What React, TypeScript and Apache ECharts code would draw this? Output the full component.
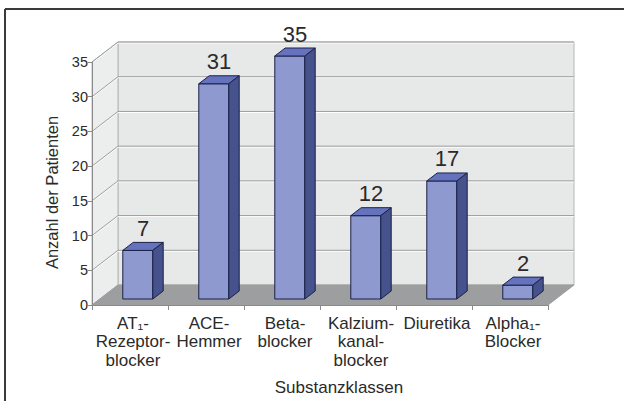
import React, { useEffect, useRef } from "react";
import * as echarts from "echarts";

const categories = [
  "AT₁-\nRezeptor-\nblocker",
  "ACE-\nHemmer",
  "Beta-\nblocker",
  "Kalzium-\nkanal-\nblocker",
  "Diuretika",
  "Alpha₁-\nBlocker",
];
const patientCounts = [7, 31, 35, 12, 17, 2];
const yTicks = [0, 5, 10, 15, 20, 25, 30, 35];
const yAxisTitle = "Anzahl der Patienten";
const xAxisTitle = "Substanzklassen";

// 3D projection (layout/style constants)
const DX = 26;
const DY = 20;
const BAR_D0 = 0.3;
const BAR_D1 = 0.7;
const BAR_W = 0.395;
const FONT = "Liberation Sans, Arial, sans-serif";

export default function App() {
  const ref = useRef<HTMLDivElement>(null);
  useEffect(() => {
    const chart = echarts.init(ref.current!, null, { renderer: "svg" });
    const yMin = yTicks[0];
    const yMax = yTicks[yTicks.length - 1];
    const interval = yTicks[1] - yTicks[0];

    const wallsRender = (params: any, api: any) => {
      const bw = api.size([1, 0])[0];
      const p0 = api.coord([0, yMin]);
      const L = p0[0] - bw / 2;
      const R = api.coord([categories.length - 1, yMin])[0] + bw / 2;
      const y0 = p0[1];
      const yTop = api.coord([0, yMax])[1];
      const children: any[] = [];
      children.push({
        type: "polygon",
        shape: { points: [[L + DX, y0 - DY], [R + DX, y0 - DY], [R + DX, yTop - DY], [L + DX, yTop - DY]] },
        style: { fill: "#e7e8e8", stroke: "#b5b6b6", lineWidth: 1 },
      });
      children.push({
        type: "polygon",
        shape: { points: [[L, y0], [L + DX, y0 - DY], [L + DX, yTop - DY], [L, yTop]] },
        style: { fill: "#eceded", stroke: "#b5b6b6", lineWidth: 1 },
      });
      children.push({
        type: "polygon",
        shape: { points: [[L, y0], [R, y0], [R + DX, y0 - DY], [L + DX, y0 - DY]] },
        style: { fill: "#9c9e9f", stroke: "#9c9e9f", lineWidth: 1 },
      });
      yTicks.forEach((t) => {
        if (t === yMin) return;
        const y = api.coord([0, t])[1];
        children.push({
          type: "polyline",
          shape: { points: [[L, y + 1], [L + DX, y - DY + 1], [R + DX, y - DY + 1]] },
          style: { stroke: "#ffffff", fill: null, lineWidth: 1 },
        });
        children.push({
          type: "polyline",
          shape: { points: [[L, y], [L + DX, y - DY], [R + DX, y - DY]] },
          style: { stroke: "#9d9d9d", fill: null, lineWidth: 1 },
        });
      });
      return { type: "group", children };
    };

    const barsRender = (params: any, api: any) => {
      const i = api.value(0);
      const v = api.value(1);
      const bw = api.size([1, 0])[0];
      const base = api.coord([i, yMin]);
      const top = api.coord([i, v]);
      const w = bw * BAR_W;
      const fx = base[0] + DX * BAR_D0 - w / 2;
      const fyB = base[1] - DY * BAR_D0;
      const fyT = top[1] - DY * BAR_D0;
      const dx = DX * (BAR_D1 - BAR_D0);
      const dy = DY * (BAR_D1 - BAR_D0);
      const stroke = "#1c2148";
      return {
        type: "group",
        children: [
          {
            type: "rect",
            shape: { x: fx, y: fyT, width: w, height: fyB - fyT },
            style: { fill: "#8e99cf", stroke, lineWidth: 1 },
          },
          {
            type: "polygon",
            shape: { points: [[fx, fyT], [fx + w, fyT], [fx + w + dx, fyT - dy], [fx + dx, fyT - dy]] },
            style: { fill: "#6573bf", stroke, lineWidth: 1 },
          },
          {
            type: "polygon",
            shape: { points: [[fx + w, fyB], [fx + w, fyT], [fx + w + dx, fyT - dy], [fx + w + dx, fyB - dy]] },
            style: { fill: "#46528c", stroke, lineWidth: 1 },
          },
          {
            type: "text",
            x: fx + w / 2 + dx / 2,
            y: fyT - dy - 14,
            style: {
              text: String(v),
              fill: "#2a2a2a",
              fontSize: 22,
              fontFamily: FONT,
              textAlign: "center",
              textVerticalAlign: "middle",
            },
          },
        ],
      };
    };

    const option: any = {
      animation: false,
      backgroundColor: "#ffffff",
      grid: { left: 92, right: 76, top: 62, bottom: 95 },
      graphic: [
        { type: "line", shape: { x1: 5, y1: 9, x2: 624, y2: 9 }, style: { stroke: "#3a3a3a", lineWidth: 2 } },
        { type: "line", shape: { x1: 5, y1: 9, x2: 5, y2: 401 }, style: { stroke: "#3a3a3a", lineWidth: 2 } },
      ],
      xAxis: {
        type: "category",
        data: categories,
        axisLine: { lineStyle: { color: "#8a8a8a", width: 1 } },
        axisTick: { show: true, length: 5, lineStyle: { color: "#8a8a8a" } },
        axisLabel: {
          interval: 0,
          margin: 9,
          fontSize: 17,
          lineHeight: 18.5,
          color: "#2a2a2a",
          fontFamily: FONT,
          padding: [0, 0, 0, 6],
        },
        name: xAxisTitle,
        nameLocation: "middle",
        nameGap: 74,
        nameTextStyle: { fontSize: 17, color: "#2a2a2a", fontFamily: FONT, padding: [0, 0, 0, 38] },
        z: 5,
      },
      yAxis: {
        type: "value",
        min: yMin,
        max: yMax,
        interval,
        axisLine: { show: true, lineStyle: { color: "#8a8a8a", width: 1 } },
        axisTick: { show: true, length: 4, lineStyle: { color: "#8a8a8a" } },
        splitLine: { show: false },
        axisLabel: { margin: 4, fontSize: 14.5, color: "#2a2a2a", fontFamily: FONT },
        name: yAxisTitle,
        nameLocation: "middle",
        nameGap: 27,
        nameTextStyle: { fontSize: 16.5, color: "#2a2a2a", fontFamily: FONT, padding: [0, 18, 0, 0] },
        z: 5,
      },
      series: [
        {
          type: "custom",
          renderItem: wallsRender,
          data: [[0, yMin]],
          encode: { x: 0, y: 1 },
          silent: true,
          z: 1,
        },
        {
          type: "custom",
          renderItem: barsRender,
          data: patientCounts.map((v, i) => [i, v]),
          encode: { x: 0, y: 1 },
          z: 3,
        },
      ],
    };
    chart.setOption(option);
    return () => chart.dispose();
  }, []);
  return (
    <div
      ref={ref}
      style={{ position: "absolute", left: 0, top: 0, width: 624, height: 401 }}
    />
  );
}
